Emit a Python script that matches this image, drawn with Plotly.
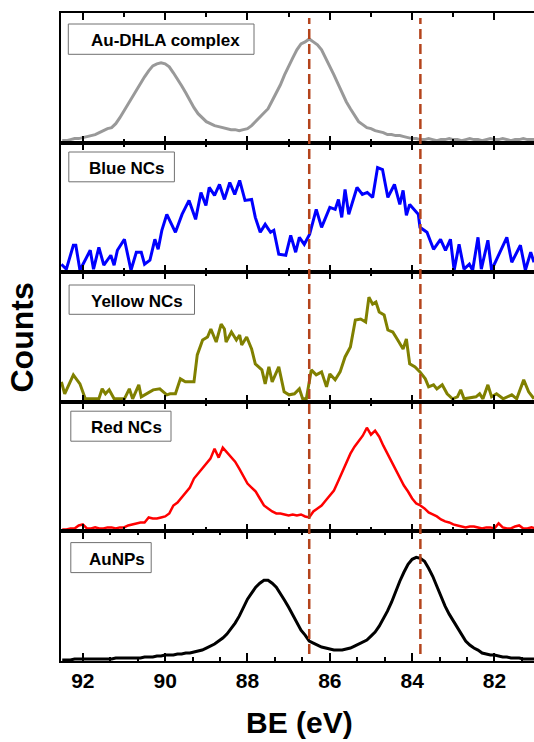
import numpy as np
import plotly.graph_objects as go
from plotly.subplots import make_subplots

# ---------------- data (BE in eV, counts in arbitrary units) ----------------
grid_be = np.round(np.linspace(92.5, 81.0, 116), 2)

au_dhla_counts = [
    2, 2, 3, 4, 4, 5,
    6, 7, 8, 10, 12, 14, 15, 19, 25, 32,
    39, 46, 53, 60, 66, 72, 77, 79, 80, 79,
    76, 70, 64, 57, 50, 42, 35, 29, 25, 21,
    19, 17, 16, 15, 14, 13, 13, 12, 13, 14,
    17, 21, 25, 29, 34, 42, 50, 58, 68, 77,
    85, 93, 99, 101, 104, 101, 98, 93, 85, 77,
    68, 59, 50, 41, 34, 27, 21, 18, 15, 14,
    12, 11, 10, 8, 8, 7, 7, 6, 5, 4,
    4, 3, 3, 4, 3, 2, 3, 3, 4, 3,
    3, 2, 3, 4, 3, 3, 2, 3, 4, 3,
    3, 4, 3, 2, 3, 3, 4, 3, 3, 3,
]

blue_be = [92.52, 92.40, 92.23, 92.17, 92.07, 91.82, 91.74, 91.61, 91.49, 91.32, 91.24, 91.16,
           90.99, 90.83, 90.70, 90.58, 90.50, 90.37, 90.25, 90.17, 90.08, 89.96, 89.75, 89.59,
           89.42, 89.26, 89.13, 89.01, 88.93, 88.80, 88.68, 88.56, 88.43, 88.31, 88.19, 88.06,
           87.90, 87.81, 87.69, 87.57, 87.44, 87.36, 87.24, 87.07, 86.95, 86.83, 86.74, 86.62,
           86.49, 86.33, 86.20, 86.00, 85.87, 85.79, 85.71, 85.63, 85.54, 85.34, 85.21, 85.09,
           84.96, 84.84, 84.72, 84.59, 84.43, 84.30, 84.22, 84.14, 84.06, 83.85, 83.81, 83.64,
           83.48, 83.31, 83.19, 83.07, 82.98, 82.86, 82.74, 82.61, 82.53, 82.40, 82.32, 82.16,
           82.07, 81.70, 81.58, 81.37, 81.25, 81.12, 81.04]
blue_counts = [8, 3, 27, 27, 2, 22, 3, 25, 7, 17, 7, 22,
               33, 2, 20, 20, 8, 12, 33, 23, 42, 58, 40, 58,
               72, 53, 80, 67, 85, 77, 88, 73, 90, 78, 92, 72,
               73, 55, 40, 48, 40, 42, 18, 17, 37, 20, 35, 28,
               38, 63, 45, 65, 63, 73, 55, 83, 58, 85, 78, 80,
               75, 105, 103, 75, 88, 68, 82, 57, 68, 58, 45, 40,
               23, 33, 22, 33, 2, 28, 3, 8, 2, 35, 3, 32,
               2, 35, 10, 27, 2, 20, 10]

yellow_be = [92.52, 92.44, 92.23, 92.07, 91.94, 91.61, 91.53, 91.45, 91.36, 91.24, 90.99, 90.87,
             90.79, 90.64, 90.58, 90.46, 90.29, 90.13, 89.96, 89.88, 89.75, 89.63, 89.51, 89.30,
             89.22, 89.09, 88.97, 88.89, 88.76, 88.64, 88.56, 88.52, 88.39, 88.27, 88.19, 88.14,
             88.02, 87.90, 87.81, 87.65, 87.57, 87.48, 87.40, 87.24, 87.11, 86.99, 86.86, 86.74,
             86.66, 86.57, 86.45, 86.33, 86.20, 86.08, 86.00, 85.87, 85.75, 85.63, 85.50, 85.38,
             85.25, 85.13, 85.05, 84.96, 84.88, 84.80, 84.68, 84.59, 84.47, 84.35, 84.22, 84.14,
             84.06, 83.93, 83.81, 83.68, 83.60, 83.48, 83.40, 83.27, 83.15, 83.02, 82.90, 82.82,
             82.74, 82.45, 82.36, 82.28, 82.16, 82.07, 81.95, 81.79, 81.58, 81.46, 81.29, 81.17,
             81.04]
yellow_counts = [20, 8, 27, 18, 3, 3, 13, 8, 12, 3, 3, 13,
                 3, 17, 5, 8, 12, 13, 7, 8, 8, 23, 20, 20,
                 47, 62, 65, 73, 60, 78, 73, 60, 70, 62, 67, 57,
                 65, 53, 38, 32, 18, 35, 20, 35, 10, 7, 8, 13,
                 3, 3, 32, 27, 30, 15, 28, 22, 30, 45, 55, 82,
                 83, 80, 105, 98, 100, 90, 87, 72, 70, 62, 53, 63,
                 38, 35, 30, 23, 15, 17, 13, 17, 8, 3, 5, 12,
                 3, 5, 8, 3, 17, 5, 8, 3, 7, 3, 22, 10,
                 3]

red_counts = [
    2, 2, 3, 3, 6, 7,
    3, 3, 4, 3, 3, 4, 4, 3, 4, 4,
    6, 7, 8, 9, 9, 14, 13, 13, 14, 15,
    18, 26, 29, 34, 38, 44, 53, 58, 63, 68,
    73, 83, 74, 84, 79, 74, 70, 63, 56, 48,
    44, 40, 33, 26, 23, 20, 18, 18, 17, 16,
    17, 16, 17, 15, 14, 20, 23, 26, 31, 36,
    41, 50, 59, 68, 78, 85, 90, 96, 104, 97,
    101, 95, 86, 78, 70, 62, 54, 46, 40, 33,
    28, 26, 23, 19, 17, 15, 12, 10, 9, 7,
    6, 5, 4, 5, 5, 4, 3, 4, 4, 3,
    8, 4, 3, 3, 5, 6, 3, 3, 4, 3,
]

aunp_counts = [
    1, 1, 1, 2, 2, 2,
    2, 2, 2, 2, 2, 2, 2, 3, 3, 3,
    3, 3, 3, 3, 4, 4, 4, 5, 5, 6,
    6, 6, 7, 7, 8, 8, 9, 10, 11, 13,
    15, 17, 20, 23, 27, 32, 38, 45, 53, 62,
    68, 74, 78, 81, 81, 78, 74, 68, 61, 54,
    46, 39, 31, 26, 20, 18, 16, 14, 13, 12,
    11, 11, 11, 12, 13, 15, 17, 19, 21, 25,
    29, 35, 42, 50, 59, 70, 80, 89, 97, 102,
    104, 103, 100, 93, 85, 75, 64, 55, 47, 40,
    34, 27, 20, 16, 13, 11, 8, 7, 6, 6,
    5, 4, 4, 3, 3, 3, 2, 2, 2, 2,
]

panel_labels = ["Au-DHLA complex", "Blue NCs", "Yellow NCs", "Red NCs", "AuNPs"]
ref_lines_be = [86.5, 83.8]
x_ticks = [92, 90, 88, 86, 84, 82]

# ---------------- layout geometry (px) ----------------
W, H = 534, 742
ML, MT = 61, 13
PLOT_W, PLOT_H = 473, 648
MB = H - MT - PLOT_H


def px_x(px):
    return (px - ML) / PLOT_W


def px_y(py):
    return (MT + PLOT_H - py) / PLOT_H


FONT = "Liberation Sans, Arial, sans-serif"

fig = make_subplots(rows=5, cols=1, shared_xaxes=True, vertical_spacing=0)

series = [
    (grid_be, au_dhla_counts, "#999999", 3),
    (blue_be, blue_counts, "#0000FF", 3),
    (yellow_be, yellow_counts, "#808000", 3),
    (grid_be, red_counts, "#FF0000", 2.5),
    (grid_be, aunp_counts, "#000000", 3),
]
for i, (xs, ys, col, lw) in enumerate(series):
    fig.add_trace(go.Scatter(x=list(xs), y=ys, mode="lines",
                             line=dict(color=col, width=lw), showlegend=False,
                             hoverinfo="skip"), row=i + 1, col=1)

for r in range(1, 6):
    bottom = r == 5
    fig.update_xaxes(
        range=[92.53, 81.04], showline=True, linewidth=2, linecolor="black",
        mirror="ticks", ticks="inside", ticklen=8 if bottom else 7, tickwidth=2,
        tickcolor="black", tickvals=x_ticks, showgrid=False, zeroline=False,
        showticklabels=bottom,
        tickfont=dict(family=FONT, size=21, color="black", weight="bold"),
        minor=dict(ticks="inside", ticklen=4, tickwidth=1.5, tickcolor="black",
                   dtick=(2 / 3) if bottom else 1, tick0=0, showgrid=False),
        row=r, col=1)
    fig.update_yaxes(range=[0, 130], showline=True, linewidth=2, linecolor="black",
                     mirror=False, showticklabels=False, ticks="", showgrid=False,
                     zeroline=False, row=r, col=1)

shapes = []
for be in ref_lines_be:
    shapes.append(dict(type="line", xref="x5", yref="paper", x0=be, x1=be,
                       y0=px_y(654), y1=px_y(18),
                       line=dict(color="#B4441C", width=2.5, dash="10px,5px"),
                       layer="above"))

boxes = [(68.3, 254, 24, 54.3, 89),
         (68.8, 174.4, 152, 181.8, 87),
         (69.1, 194.5, 285, 314.3, 88.5),
         (70.8, 171, 411.2, 441.2, 88.5),
         (70.8, 151.2, 542.6, 572.6, 86.5)]
annotations = []
for (l, rr, t, b, tx), lab in zip(boxes, panel_labels):
    shapes.append(dict(type="rect", xref="paper", yref="paper",
                       x0=px_x(l), x1=px_x(rr), y0=px_y(b), y1=px_y(t),
                       line=dict(color="#707070", width=1), fillcolor="rgba(0,0,0,0)"))
    annotations.append(dict(text=lab, xref="paper", yref="paper", x=px_x(tx),
                            y=px_y((t + b) / 2 + 1.5), xanchor="left", yanchor="middle",
                            showarrow=False,
                            font=dict(family=FONT, size=17, color="black", weight="bold")))

annotations.append(dict(text="BE (eV)", xref="paper", yref="paper", x=px_x(299.5),
                        y=px_y(722), xanchor="center", yanchor="middle", showarrow=False,
                        font=dict(family=FONT, size=30, color="black", weight="bold")))
annotations.append(dict(text="Counts", xref="paper", yref="paper", x=px_x(21.5),
                        y=px_y(338), xanchor="center", yanchor="middle", showarrow=False,
                        textangle=-90,
                        font=dict(family=FONT, size=32, color="black", weight="bold")))

fig.update_layout(width=W, height=H, margin=dict(l=ML, r=0, t=MT, b=MB),
                  paper_bgcolor="white", plot_bgcolor="white",
                  shapes=shapes, annotations=annotations, showlegend=False)

fig.write_html("out.html", config={"displayModeBar": False},
               post_script="document.body.style.margin='0';document.body.style.padding='0';")
